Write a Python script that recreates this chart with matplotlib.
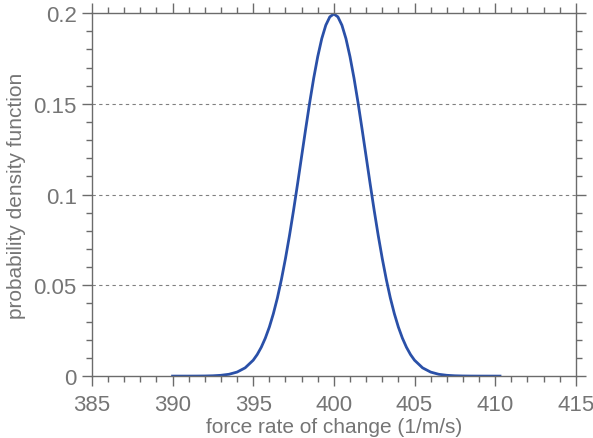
import matplotlib
matplotlib.use("Agg")
import matplotlib.pyplot as plt
from matplotlib.ticker import MultipleLocator

plt.rcParams['font.family'] = ['Liberation Sans', 'DejaVu Sans']

# values
x_vals = [390, 390.5, 391, 391.5, 392, 392.5, 393, 393.5, 394, 394.5, 395, 395.25,
          395.5, 395.75, 396, 396.25, 396.5, 396.75, 397, 397.25, 397.5, 397.75,
          398, 398.25, 398.5, 398.75, 399, 399.25, 399.5, 399.75,
          400, 400.25, 400.5, 400.75, 401, 401.25, 401.5, 401.75, 402, 402.25,
          402.5, 402.75, 403, 403.25, 403.5, 403.75, 404, 404.25, 404.5, 404.75,
          405, 405.5, 406, 406.5, 407, 407.5, 408, 408.5, 409, 409.5, 410, 410.3]
pdf_vals = [0.0000007, 0.000002, 0.000008, 0.000024, 0.000067, 0.00018, 0.00044,
            0.00101, 0.00222, 0.00455, 0.00876, 0.0119,
            0.0159, 0.0209, 0.0270, 0.0344, 0.0431, 0.0533, 0.0648, 0.0775,
            0.0913, 0.1059, 0.1210, 0.1360, 0.1506, 0.1641, 0.1760, 0.1859,
            0.1933, 0.1979,
            0.1995, 0.1979, 0.1933, 0.1859, 0.1760, 0.1641, 0.1506, 0.1360,
            0.1210, 0.1059, 0.0913, 0.0775, 0.0648, 0.0533, 0.0431, 0.0344,
            0.0270, 0.0209, 0.0159, 0.0119, 0.00876, 0.00455, 0.00222, 0.00101,
            0.00044, 0.00018, 0.000067, 0.000024, 0.000008, 0.000002, 0.0000007,
            0.0000003]
x_ticks = [385, 390, 395, 400, 405, 410, 415]
y_ticks = [0, 0.05, 0.1, 0.15, 0.2]
y_labels = ['0', '0.05', '0.1', '0.15', '0.2']

grey = '#6b6b6b'
txt = '#757575'

fig = plt.figure(figsize=(5.93, 4.39), dpi=100)
ax = fig.add_axes([0.155, 0.141, 0.816, 0.827])

ax.plot(x_vals, pdf_vals, color='#2a50a8', lw=2)

for yv in y_ticks[1:-1]:
    ax.axhline(yv, color='#808080', lw=0.8, ls=(0, (3, 3)), zorder=0)

ax.set_xlim(385, 415)
ax.set_ylim(0, 0.2)
ax.set_xticks(x_ticks)
ax.set_yticks(y_ticks)
ax.set_yticklabels(y_labels)
ax.xaxis.set_minor_locator(MultipleLocator(1))
ax.yaxis.set_minor_locator(MultipleLocator(0.01))

for s in ax.spines.values():
    s.set_color(grey)
    s.set_linewidth(1.0)

ax.tick_params(which='both', direction='out', top=True, right=True, color=grey,
               labelcolor=txt, labelsize=16, width=1.0)
ax.tick_params(which='major', length=7, pad=4)
ax.tick_params(axis='x', which='major', pad=6)
ax.tick_params(which='minor', length=4)

ax.set_xlabel('force rate of change (1/m/s)', fontsize=15, color=txt, labelpad=1)
ax.set_ylabel('probability density function', fontsize=15, color=txt, labelpad=5)

fig.savefig('out.png', dpi=100)
